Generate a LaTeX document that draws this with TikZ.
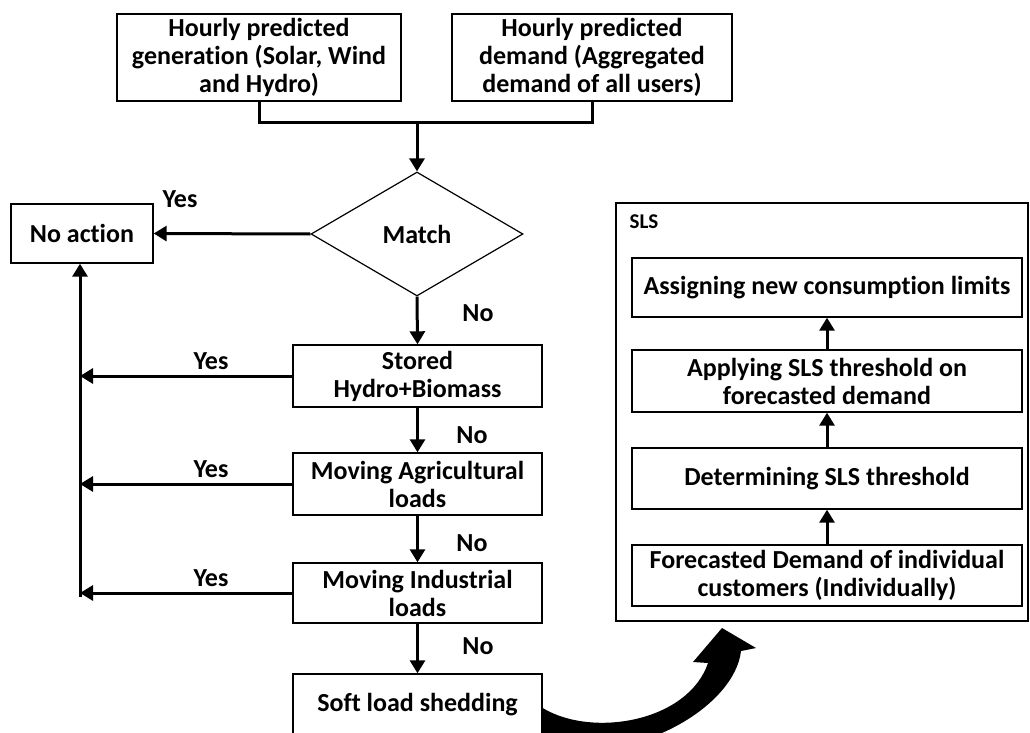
\documentclass[tikz,border=0pt]{standalone}
\usepackage{fontspec}
\setmainfont[Ligatures=NoCommon]{Carlito}
\usetikzlibrary{shapes.geometric,arrows.meta}

\tikzset{
  box/.style={draw,line width=1.4pt,align=center,inner sep=0pt},
  flow/.style={line width=3pt,-{Triangle[width=15pt,length=13pt]}},
  lbl/.style={inner sep=0pt},
}

\begin{document}
\begin{tikzpicture}[x=1pt,y=-1pt,font=\fontsize{26}{28}\selectfont\bfseries]
		\clip (0,0) rectangle (1030,733);
		\node[box,minimum width=284pt,minimum height=87pt] (gen) at (259,57.5) {Hourly predicted\\generation (Solar, Wind\\and Hydro)};
		\node[box,minimum width=280pt,minimum height=87pt] (dem) at (592,57.5) {Hourly predicted\\demand (Aggregated\\demand of all users)};
		\coordinate (join) at (417,123);
		\node[draw,diamond,line width=1.2pt,inner sep=0pt,minimum width=212pt,minimum height=124pt] (match) at (417,234) {Match};
		\node[box,minimum width=142pt,minimum height=59pt] (noact) at (82,233.5) {No action};
		\node[box,minimum width=249pt,minimum height=62pt] (stored) at (417.5,376) {Stored\\Hydro+Biomass};
		\node[box,minimum width=249pt,minimum height=62pt] (agri) at (417.5,484) {Moving Agricultural\\loads};
		\node[box,minimum width=249pt,minimum height=60pt] (indus) at (417.5,593) {Moving Industrial\\loads};
		\node[box,minimum width=249pt,minimum height=62pt] (soft) at (417.5,705) {Soft load shedding};
		\coordinate (railbot) at (80,597);

		\node[lbl] at (180,199) {Yes};
		\node[lbl] at (211,361) {Yes};
		\node[lbl] at (211,469) {Yes};
		\node[lbl] at (211,578) {Yes};
		\node[lbl] at (478,313) {No};
		\node[lbl] at (472,435) {No};
		\node[lbl] at (472,543) {No};
		\node[lbl] at (478,646) {No};

		\draw[line width=3pt] (gen.south) |- (join) -| (dem.south);
		\draw[flow] (join) -- (match.north);
		\draw[flow] (match.west) -- (noact.east);
		\draw[flow] (match.south) -- (stored.north);
		\draw[flow] (stored.south) -- (agri.north);
		\draw[flow] (agri.south) -- (indus.north);
		\draw[flow] (indus.south) -- (soft.north);
		\draw[flow] (stored.west) -- (stored.west -| railbot);
		\draw[flow] (agri.west) -- (agri.west -| railbot);
		\draw[flow] (indus.west) -- (indus.west -| railbot);
		\draw[flow] (railbot) -- (railbot |- noact.south);

		\draw[line width=1.4pt] (616,203) rectangle (1028,621);
		\node[lbl,font=\fontsize{21}{24}\selectfont\bfseries] (slstitle) at (644,222) {SLS};
		\node[box,minimum width=390pt,minimum height=59pt] (assign) at (827,287.5) {Assigning new consumption limits};
		\node[box,minimum width=390pt,minimum height=62pt] (apply) at (827,381) {Applying SLS threshold on\\forecasted demand};
		\node[box,minimum width=390pt,minimum height=61pt] (determ) at (827,478.5) {Determining SLS threshold};
		\node[box,minimum width=390pt,minimum height=61pt] (fore) at (827,575.5) {Forecasted Demand of individual\\customers (Individually)};

		\draw[flow] (fore.north) -- (determ.south);
		\draw[flow] (determ.north) -- (apply.south);
		\draw[flow] (apply.north) -- (assign.south);

		\fill (soft.east |- 0,708) .. controls (592,738) and (688,722) .. (708,663)
		  -- (693,662) -- (722,628) -- (756,648) -- (741,651)
		  .. controls (735,705) and (640,765) .. (soft.east |- 0,748) -- cycle;
	\end{tikzpicture}
\end{document}
